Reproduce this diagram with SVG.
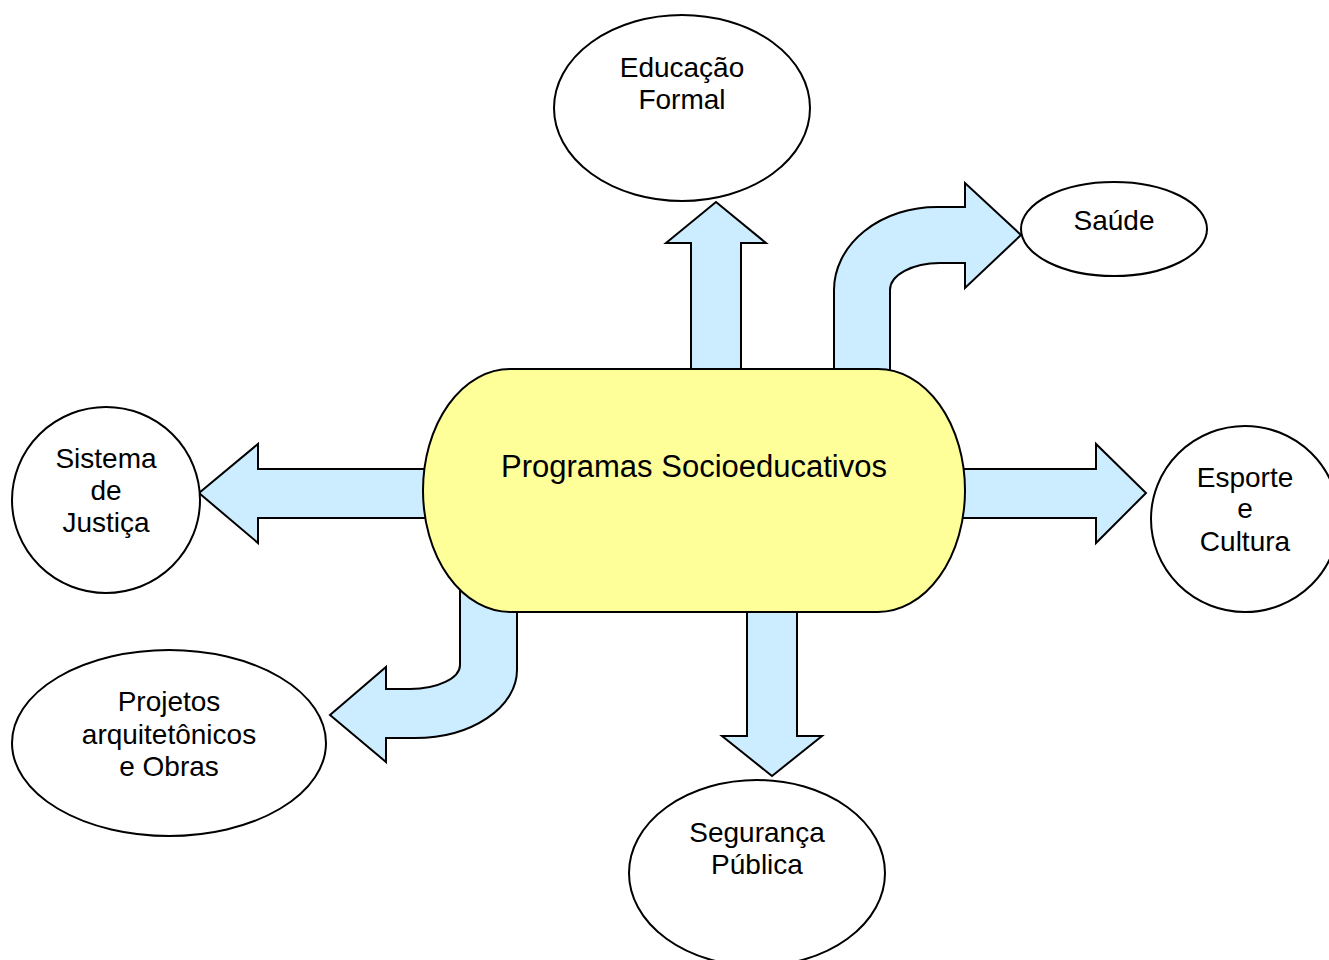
<svg xmlns="http://www.w3.org/2000/svg" width="1329" height="960" viewBox="0 0 1329 960">
<style>
.arrow{fill:#CCECFF;stroke:#000;stroke-width:2;stroke-linejoin:miter}
.node{fill:#fff;stroke:#000;stroke-width:2}
.center{fill:#FFFF99;stroke:#000;stroke-width:2}
text{font-family:"Liberation Sans",Arial,sans-serif;font-size:28px;fill:#000;text-anchor:middle}
.big{font-size:31px}
</style>
<rect width="1329" height="960" fill="#fff"/>
<g id="connectors">
<path class="arrow" d="M691,380 V243 H666 L716,202 L766,243 H741 V380 Z"/>
<path class="arrow" d="M834,380 V290 A103,83 0 0 1 937,207 H965 V183 L1021,235 L965,288 V263 H940 A50,27 0 0 0 890,290 V380 Z"/>
<path class="arrow" d="M440,469 H258 V444 L199,493 L258,543 V518 H440 Z"/>
<path class="arrow" d="M950,469 H1096 V444 L1146,493 L1096,543 V518 H950 Z"/>
<path class="arrow" d="M747,600 V736 H722 L772,776 L822,736 H797 V600 Z"/>
<path class="arrow" d="M460,585 V665 A50,24 0 0 1 410,689 H386 V667 L330,715 L386,762 V738 H415 A102,68 0 0 0 517,670 V600 Z"/>
</g>
<g id="center">
<path class="center" d="M510,369 H878 A87,121.5 0 0 1 878,612 H510 A87,121.5 0 0 1 510,369 Z"/>
<text class="big" x="694" y="477">Programas Socioeducativos</text>
</g>
<g id="educacao">
<ellipse class="node" cx="682" cy="108" rx="128" ry="93"/>
<text x="682" y="77">Educação</text>
<text x="682" y="109">Formal</text>
</g>
<g id="saude">
<ellipse class="node" cx="1114" cy="229" rx="93" ry="47"/>
<text x="1114" y="230">Saúde</text>
</g>
<g id="justica">
<ellipse class="node" cx="106" cy="500" rx="94" ry="93"/>
<text x="106" y="468">Sistema</text>
<text x="106" y="500">de</text>
<text x="106" y="532">Justiça</text>
</g>
<g id="esporte">
<ellipse class="node" cx="1245" cy="519" rx="94" ry="93"/>
<text x="1245" y="487">Esporte</text>
<text x="1245" y="518">e</text>
<text x="1245" y="551">Cultura</text>
</g>
<g id="projetos">
<ellipse class="node" cx="169" cy="743" rx="157" ry="93"/>
<text x="169" y="711">Projetos</text>
<text x="169" y="744">arquitetônicos</text>
<text x="169" y="776">e Obras</text>
</g>
<g id="seguranca">
<ellipse class="node" cx="757" cy="873" rx="128" ry="93"/>
<text x="757" y="842">Segurança</text>
<text x="757" y="874">Pública</text>
</g>
</svg>
